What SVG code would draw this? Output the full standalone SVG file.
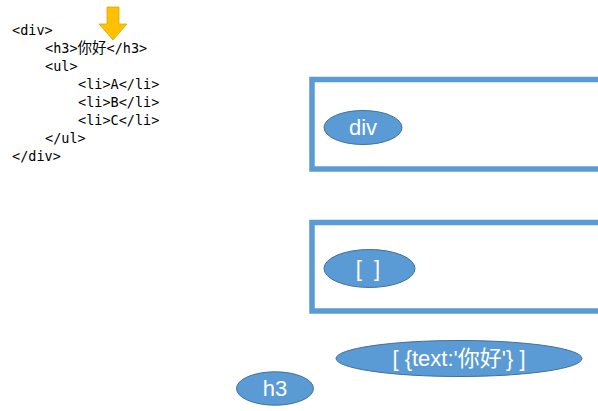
<svg xmlns="http://www.w3.org/2000/svg" width="598" height="411" viewBox="0 0 598 411">
<style>
.code{font-family:"DejaVu Sans Mono","Noto Sans CJK SC",monospace;font-size:13.5px;fill:#000}
.cjk{font-family:"Noto Sans CJK SC",sans-serif;font-size:14.5px}
.box{fill:none;stroke:#5B9BD5;stroke-width:5.5}
.node ellipse{fill:#5B9BD5;stroke:#41719C;stroke-width:1}
.node text{font-family:"Liberation Sans","Noto Sans CJK SC",sans-serif;font-size:22px;fill:#fff;text-anchor:middle}
</style>
<rect width="598" height="411" fill="#fff"/>
<g id="code">
<text class="code" x="12" y="35">&lt;div&gt;</text>
<text class="code" x="45" y="53">&lt;h3&gt;<tspan class="cjk">你好</tspan>&lt;/h3&gt;</text>
<text class="code" x="45" y="71">&lt;ul&gt;</text>
<text class="code" x="78" y="89">&lt;li&gt;A&lt;/li&gt;</text>
<text class="code" x="78" y="107">&lt;li&gt;B&lt;/li&gt;</text>
<text class="code" x="78" y="125">&lt;li&gt;C&lt;/li&gt;</text>
<text class="code" x="45" y="143">&lt;/ul&gt;</text>
<text class="code" x="12" y="161">&lt;/div&gt;</text>
</g>
<g id="arrow">
<polygon points="107,7 119,7 119,24 127,24 113,40 99,24 107,24" fill="#FFC000" stroke="#D9A400" stroke-width="0.8"/>
</g>
<g id="connectors">
<path class="box" d="M598 79.5 H312 V169 H598"/>
<path class="box" d="M598 222.5 H312 V311 H598"/>
</g>
<g id="node-div" class="node">
<ellipse cx="363" cy="127.5" rx="39" ry="17"/>
<text x="363" y="135">div</text>
</g>
<g id="node-arr" class="node">
<ellipse cx="369.5" cy="268.5" rx="45.5" ry="19"/>
<text x="369.5" y="276" letter-spacing="3">[ ]</text>
</g>
<g id="node-text" class="node">
<ellipse cx="459" cy="358.5" rx="123" ry="18"/>
<text x="459" y="366">[ {text:'你好'} ]</text>
</g>
<g id="node-h3" class="node">
<ellipse cx="275" cy="388.5" rx="38.5" ry="16.7"/>
<text x="275" y="396">h3</text>
</g>
</svg>
